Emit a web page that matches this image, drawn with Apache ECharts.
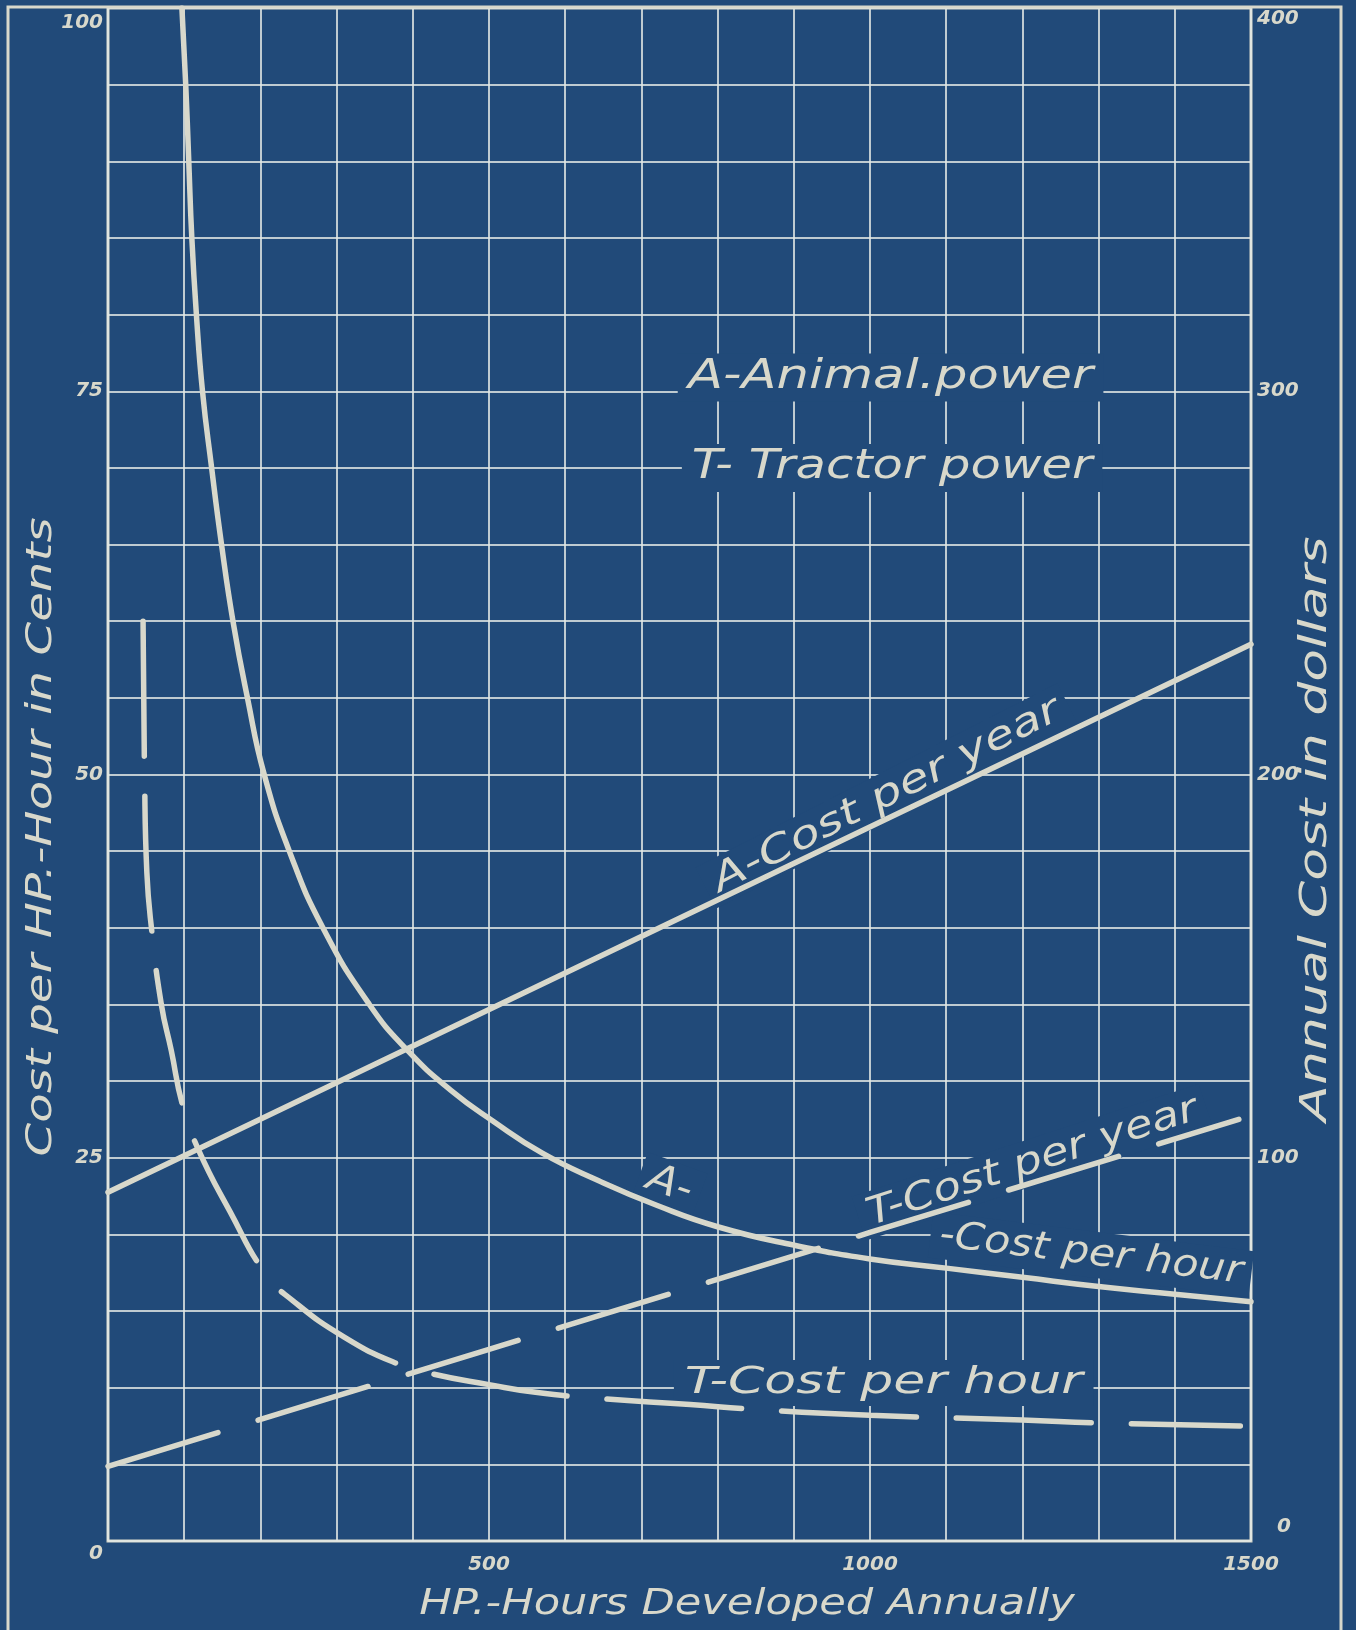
<!DOCTYPE html>
<html>
<head>
<meta charset="utf-8">
<title>Cost of animal and tractor power</title>
<script src="https://cdn.jsdelivr.net/npm/echarts@6/dist/echarts.min.js"></script>
<style>
html, body { margin: 0; padding: 0; background: #224b78; }
#chart { width: 1356px; height: 1630px; }
</style>
</head>
<body>
<div id="chart"></div>
<script>
// A - cost per HP-hour (cents)
const aHourX = [97, 102, 106, 110, 116, 124, 136, 149, 164, 183, 205, 238, 282, 343, 395, 450, 505, 570, 644, 720, 800, 900, 1000, 1100, 1200, 1300, 1400, 1500];
const aHourY = [100, 95, 90, 85, 80, 75, 70, 65, 60, 55, 50, 45, 40, 35, 31.9, 29.4, 27.4, 25.3, 23.5, 21.9, 20.5, 19.3, 18.4, 17.8, 17.2, 16.6, 16.1, 15.6];
// T - cost per HP-hour (cents)
const tHourX = [46, 48, 51, 57, 70, 83, 98, 118, 160, 207, 242, 310, 378, 426, 500, 561, 644, 764, 845, 1000, 1200, 1300, 1486];
const tHourY = [60, 50, 43.6, 40, 35, 32, 28.4, 25.6, 21.5, 17.4, 15.7, 13.3, 11.6, 10.9, 10.2, 9.7, 9.3, 8.9, 8.6, 8.2, 7.9, 7.7, 7.5];
// annual cost in dollars (right axis)
const aYearX = [0, 535, 1500];
const aYearY = [91, 142, 234];
const tYearX = [0, 500, 1000, 1484];
const tYearY = [19.5, 50, 80.5, 110];

const xLabels = [500, 1000, 1500];
const leftLabels = [0, 25, 50, 75, 100];
const rightLabels = [0, 100, 200, 300, 400];

const BG = '#214a79';
const INK = '#d8d8cb';
const GRID = 'rgba(226,232,228,0.82)';
const FONT = '"DejaVu Sans", sans-serif';

function pairs(xs, ys) {
    return xs.map((x, i) => [x, ys[i]]);
}

const chart = echarts.init(document.getElementById('chart'));

const numStyle = { color: INK, fontFamily: FONT, fontStyle: 'italic', fontWeight: 'bold', fontSize: 20 };

let option = {
    backgroundColor: BG,
    animation: false,
    grid: { left: 108, right: 105, top: 8, bottom: 89, show: true, borderColor: INK, borderWidth: 3 },
    xAxis: {
        type: 'value', min: 0, max: 1500, interval: 100,
        axisLine: { show: false }, axisTick: { show: false },
        splitLine: { show: true, lineStyle: { color: GRID, width: 2 } },
        axisLabel: {
            margin: 14, ...numStyle,
            formatter: (v) => (xLabels.indexOf(v) >= 0 ? String(v) : ''),
        },
    },
    yAxis: [
        {
            type: 'value', min: 0, max: 100, interval: 5,
            axisLine: { show: false }, axisTick: { show: false },
            splitLine: { show: true, lineStyle: { color: GRID, width: 2 } },
            axisLabel: {
                margin: 5, ...numStyle,
                formatter: (v) => {
                    if (leftLabels.indexOf(v) < 0) return '';
                    if (v === 100) return '{top|' + v + '}';
                    if (v === 0) return '{low|' + v + '}';
                    return String(v);
                },
                rich: {
                    top: { ...numStyle, padding: [30, 0, 0, 0] },
                    low: { ...numStyle, padding: [26, 0, 0, 0] },
                },
            },
        },
        {
            type: 'value', min: 0, max: 400, interval: 20, position: 'right',
            axisLine: { show: false }, axisTick: { show: false },
            splitLine: { show: false },
            axisLabel: {
                margin: 6, ...numStyle,
                formatter: (v) => {
                    if (rightLabels.indexOf(v) < 0) return '';
                    if (v === 400) return '{top|' + v + '}';
                    if (v === 0) return '{high|' + v + '}';
                    return String(v);
                },
                rich: {
                    top: { ...numStyle, padding: [22, 0, 0, 0] },
                    high: { ...numStyle, padding: [0, 0, 28, 20] },
                },
            },
        },
    ],
    series: [
        {
            name: 'A-Cost per hour', type: 'line', yAxisIndex: 0,
            data: pairs(aHourX, aHourY), smooth: 0.5,
            showSymbol: false, z: 5,
            lineStyle: { color: INK, width: 5.5, cap: 'round' },
        },
        {
            name: 'T-Cost per hour', type: 'line', yAxisIndex: 0,
            data: pairs(tHourX, tHourY), smooth: 0.5,
            showSymbol: false, z: 5,
            lineStyle: { color: INK, width: 5.5, cap: 'round', type: [135, 40] },
        },
        {
            name: 'A-Cost per year', type: 'line', yAxisIndex: 1,
            data: pairs(aYearX, aYearY), showSymbol: false, z: 5,
            lineStyle: { color: INK, width: 5.5, cap: 'round' },
        },
        {
            name: 'T-Cost per year', type: 'line', yAxisIndex: 1,
            data: pairs(tYearX, tYearY), showSymbol: false, z: 5,
            lineStyle: { color: INK, width: 5.5, cap: 'round', type: [115, 42] },
        },
    ],
};
chart.setOption(option);

// annotations, anchored in data units (x in HP-hours, y in cents); sx widens the lettering
const notes = [
    { text: 'A-Animal.power', at: [1027, 75.9], rot: 0, size: 40, sx: 1.28 },
    { text: 'T- Tractor power', at: [1029, 70.0], rot: 0, size: 40, sx: 1.24 },
    { text: 'A-Cost per year', at: [1022, 48.6], rot: 27, size: 38, sx: 1.3 },
    { text: 'T-Cost per year', at: [1213, 24.7], rot: 18, size: 38, sx: 1.2 },
    { text: 'A-', at: [737, 23.2], rot: -20, size: 40, sx: 1.1 },
    { text: '-Cost per hour', at: [1290, 18.7], rot: -7, size: 38, sx: 1.12 },
    { text: 'T-Cost per hour', at: [1018, 10.3], rot: 0, size: 38, sx: 1.37 },
];

function textEl(text, x, y, rotDeg, size, sx, withBg) {
    const style = {
        text: text, x: 0, y: 0,
        fill: INK,
        font: 'italic ' + size + 'px ' + FONT,
        align: 'center', verticalAlign: 'middle',
        textAlign: 'center', textVerticalAlign: 'middle',
    };
    if (withBg) {
        style.backgroundColor = BG;
        style.padding = [4, 8];
    }
    return { type: 'text', x: x, y: y, scaleX: sx, rotation: rotDeg * Math.PI / 180, z: 1, style: style };
}

const graphics = [
    {
        type: 'rect', z: 1, silent: true,
        shape: { x: 8, y: 7, width: 1333, height: 1700 },
        style: { fill: 'none', stroke: INK, lineWidth: 3 },
    },
];
notes.forEach((n) => {
    const p = chart.convertToPixel({ gridIndex: 0 }, n.at);
    graphics.push(textEl(n.text, p[0], p[1], n.rot, n.size, n.sx, true));
});
// axis titles
graphics.push(textEl('HP.-Hours Developed Annually', 747, 1605, 0, 36, 1.2, false));
graphics.push(textEl('Cost per HP.-Hour in Cents', 42, 837, 90, 35, 1.38, false));
graphics.push(textEl('Annual Cost in dollars', 1316, 829, 90, 37, 1.45, false));

chart.setOption({ graphic: graphics });
</script>
</body>
</html>
